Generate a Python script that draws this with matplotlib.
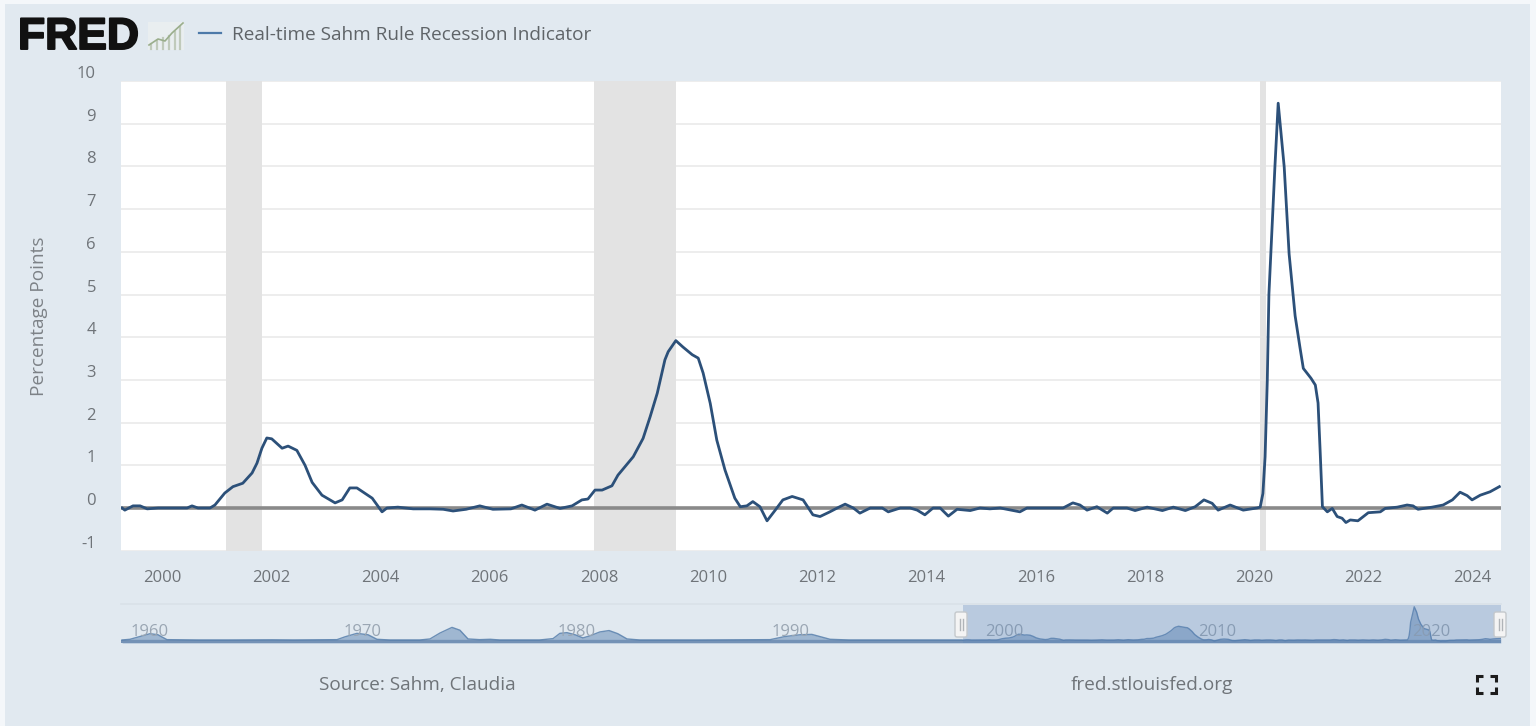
import matplotlib
matplotlib.use("Agg")
import matplotlib.pyplot as plt
import matplotlib.patheffects as pe
from matplotlib.patches import Rectangle, FancyBboxPatch
from matplotlib.transforms import ScaledTranslation

W, H = 1536, 726

# Real-time Sahm indicator, (decimal year, percentage points)
years = [1999.27, 1999.32, 1999.47, 1999.60, 1999.73, 1999.93, 2000.24, 2000.46, 2000.55, 2000.66,
         2000.88, 2000.97, 2001.15, 2001.30, 2001.48, 2001.65, 2001.74, 2001.83, 2001.92, 2002.01,
         2002.20, 2002.31, 2002.47, 2002.62, 2002.75, 2002.93, 2003.17, 2003.30, 2003.44, 2003.57,
         2003.85, 2004.03, 2004.12, 2004.32, 2004.60, 2004.91, 2005.15, 2005.33, 2005.57, 2005.82,
         2006.06, 2006.39, 2006.59, 2006.83, 2007.05, 2007.29, 2007.51, 2007.69, 2007.80, 2007.93,
         2008.06, 2008.24, 2008.35, 2008.63, 2008.81, 2008.94, 2009.07, 2009.21, 2009.27, 2009.41,
         2009.54, 2009.71, 2009.82, 2009.91, 2010.04, 2010.16, 2010.31, 2010.49, 2010.59, 2010.71,
         2010.82, 2010.95, 2011.08, 2011.23, 2011.37, 2011.54, 2011.74, 2011.92, 2012.05, 2012.23,
         2012.38, 2012.51, 2012.66, 2012.78, 2012.97, 2013.19, 2013.30, 2013.52, 2013.70, 2013.83,
         2013.97, 2014.12, 2014.25, 2014.40, 2014.56, 2014.80, 2014.98, 2015.16, 2015.35, 2015.59,
         2015.71, 2015.84, 2016.08, 2016.32, 2016.50, 2016.68, 2016.81, 2016.94, 2017.12, 2017.31,
         2017.42, 2017.67, 2017.82, 2018.04, 2018.32, 2018.52, 2018.74, 2018.92, 2019.08, 2019.23,
         2019.34, 2019.56, 2019.80, 2020.05, 2020.11, 2020.16, 2020.20, 2020.24, 2020.27, 2020.38,
         2020.44, 2020.55, 2020.64, 2020.75, 2020.84, 2020.90, 2021.04, 2021.12, 2021.17, 2021.21,
         2021.25, 2021.34, 2021.43, 2021.52, 2021.61, 2021.68, 2021.76, 2021.90, 2022.09, 2022.31,
         2022.40, 2022.62, 2022.80, 2022.91, 2023.00, 2023.26, 2023.46, 2023.63, 2023.77, 2023.90,
         2023.99, 2024.14, 2024.32, 2024.49]
values = [0.0, -0.05, 0.05, 0.05, -0.02, 0.0, 0.0, 0.0, 0.05, 0.0,
          0.0, 0.07, 0.35, 0.5, 0.58, 0.82, 1.05, 1.4, 1.64, 1.62,
          1.4, 1.45, 1.35, 1.0, 0.6, 0.3, 0.12, 0.19, 0.47, 0.47,
          0.23, -0.09, 0.0, 0.02, -0.02, -0.02, -0.03, -0.07, -0.03, 0.05,
          -0.03, -0.02, 0.07, -0.05, 0.09, -0.01, 0.05, 0.19, 0.21, 0.42,
          0.42, 0.52, 0.77, 1.2, 1.63, 2.14, 2.69, 3.47, 3.66, 3.92,
          3.77, 3.59, 3.51, 3.16, 2.45, 1.59, 0.89, 0.23, 0.03, 0.05,
          0.15, 0.03, -0.30, -0.05, 0.19, 0.27, 0.19, -0.16, -0.20, -0.09,
          0.01, 0.09, 0.0, -0.12, 0.0, 0.0, -0.09, 0.0, 0.0, -0.05,
          -0.16, 0.0, 0.0, -0.19, -0.03, -0.06, 0.0, -0.02, 0.0, -0.06,
          -0.09, 0.0, 0.0, 0.0, 0.0, 0.12, 0.07, -0.05, 0.03, -0.12,
          0.0, 0.0, -0.06, 0.02, -0.06, 0.02, -0.06, 0.03, 0.19, 0.11,
          -0.05, 0.07, -0.05, 0.0, 0.02, 0.34, 1.2, 2.97, 5.0, 7.99,
          9.48, 7.99, 5.95, 4.5, 3.75, 3.27, 3.04, 2.88, 2.46, 1.28,
          0.03, -0.09, -0.01, -0.2, -0.24, -0.34, -0.28, -0.3, -0.11, -0.09,
          -0.01, 0.02, 0.07, 0.05, -0.03, 0.02, 0.07, 0.19, 0.37, 0.29,
          0.19, 0.30, 0.38, 0.5]

# Earlier history, only shown in the navigator strip
early_years = [1959.97, 1960.34, 1960.81, 1961.28, 1961.65, 1962.07, 1963.5, 1965.0, 1967.0, 1968.0,
               1970.03, 1970.4, 1970.96, 1971.48, 1971.9, 1972.5, 1973.9, 1974.38, 1974.85, 1975.41,
               1975.78, 1976.16, 1976.7, 1977.2, 1977.65, 1979.5, 1980.14, 1980.46, 1980.79, 1981.17,
               1981.54, 1981.87, 1982.33, 1982.76, 1983.17, 1983.6, 1984.2, 1987.0, 1990.3, 1991.0,
               1991.7, 1992.25, 1993.1, 1994.0, 1996.4, 1999.2]
early_values = [0.0, 0.2, 1.0, 1.8, 1.5, 0.1, 0.0, 0.0, 0.05, 0.0,
                0.1, 0.9, 1.9, 1.5, 0.2, 0.0, 0.0, 0.3, 2.0, 3.6,
                2.8, 0.3, 0.1, 0.2, 0.0, 0.0, 0.4, 1.9, 2.1, 1.5,
                0.6, 1.2, 2.3, 2.7, 1.8, 0.3, 0.0, 0.0, 0.1, 1.0,
                1.5, 1.6, 0.2, 0.0, 0.0, 0.0]

# NBER recessions inside the main window
recession_starts = [2001.17, 2007.92, 2020.10]
recession_ends = [2001.84, 2009.42, 2020.22]

y_ticks = [-1, 0, 1, 2, 3, 4, 5, 6, 7, 8, 9, 10]
x_ticks = list(range(2000, 2025, 2))
nav_ticks = [1960, 1970, 1980, 1990, 2000, 2010, 2020]

BG = "#e1e9f0"
LINE = "#2c5079"
TEXT = "#6f7479"
FONT = "Open Sans"

plt.rcParams["font.family"] = [FONT, "DejaVu Sans"]
plt.rcParams["axes.unicode_minus"] = False


def px_axes(fig, left, top, right, bottom, **kw):
    return fig.add_axes([left / W, 1 - bottom / H, (right - left) / W, (bottom - top) / H], **kw)


fig = plt.figure(figsize=(W / 100, H / 100), dpi=100, facecolor="#f4f7fa")

# pixel-space layer for the panel, logo, legend and footer
bg = px_axes(fig, 0, 0, W, H)
bg.set_xlim(0, W)
bg.set_ylim(H, 0)
bg.axis("off")
bg.add_patch(Rectangle((5, 4), W - 11, H - 4, color=BG, lw=0))

logo = bg.text(18, 49, "FRED", family=["Liberation Sans", "DejaVu Sans"], fontweight="bold",
               fontsize=32, color="#111111", va="baseline", ha="left")
logo.set_path_effects([pe.withStroke(linewidth=1.4, foreground="#111111")])

# small chart glyph next to the logo
bg.add_patch(Rectangle((148, 22), 36, 28, color="#e9eef0", lw=0))
for bx, bh in zip([151, 157, 163, 169, 175, 180], [5, 8, 11, 13, 17, 22]):
    bg.plot([bx, bx], [49, 49 - bh], color="#c0cabb", lw=1.6)
bg.plot([149, 158, 165, 172, 183], [45, 39, 41, 33, 23], color="#9aae8c", lw=1.2)

bg.plot([199, 221], [33, 33], color="#4d7aa9", lw=1.6)
bg.text(232, 35.5, "Real-time Sahm Rule Recession Indicator", fontsize=13.7, color="#5f6468",
        va="center", ha="left")

bg.text(417, 685, "Source: Sahm, Claudia", fontsize=13.7, color=TEXT, va="center", ha="center")
bg.text(1152, 685, "fred.stlouisfed.org", fontsize=13.7, color=TEXT, va="center", ha="center")

# fullscreen icon
for cx, cy, dx, dy in [(1477, 676, 1, 1), (1496, 676, -1, 1), (1477, 693, 1, -1), (1496, 693, -1, -1)]:
    bg.plot([cx + 6 * dx, cx, cx], [cy, cy, cy + 6 * dy], color="#1c1c1c", lw=2.2,
            solid_joinstyle="miter", solid_capstyle="butt")

# main chart
ax = px_axes(fig, 121, 81, 1501, 550.7, facecolor="white")
ax.set_xlim(1999.25, 2024.52)
ax.set_ylim(-1, 10)
ax.set_yticks(y_ticks)
ax.set_xticks(x_ticks)
ax.grid(axis="y", color="#ececec", lw=1.3)
ax.set_axisbelow(True)
ax.tick_params(length=0)
ax.tick_params(axis="both", labelsize=12, labelcolor=TEXT)
ax.tick_params(axis="x", pad=14)
ax.tick_params(axis="y", pad=18)
for spine in ax.spines.values():
    spine.set_visible(False)

# FRED sets the y labels above their gridlines
lift = ScaledTranslation(0, 9 / 100, fig.dpi_scale_trans)
for lab in ax.get_yticklabels():
    lab.set_transform(lab.get_transform() + lift)

for start, end in zip(recession_starts, recession_ends):
    ax.axvspan(start, end, color="#e3e3e3", lw=0, zorder=1.5)
ax.axhline(0, color="#8a8a8a", lw=2.6, zorder=2)
ax.plot(years, values, color=LINE, lw=2, zorder=3, solid_joinstyle="round")

bg.text(39, 316, "Percentage Points", rotation=90, fontsize=13.7, color="#7d8287",
        va="center", ha="center")

# navigator strip
nav = px_axes(fig, 121, 605, 1501, 643)
nav.patch.set_alpha(0)
nav.axis("off")
nav.set_xlim(1959.92, 2024.5)
nav.set_ylim(-0.86, 10)
nav_x = early_years + years
nav_y = early_values + values
for tick in nav_ticks:
    nav.annotate(str(tick), xy=(tick, 0), xytext=(19, 0), textcoords="offset points",
                 fontsize=12, color="#9aa6b3", ha="center", va="bottom", annotation_clip=False)
nav.fill_between(nav_x, nav_y, -0.86, color="#4572a7", alpha=0.42, lw=0)
nav.plot(nav_x, nav_y, color="#4f79a8", lw=1, alpha=0.8)
nav.axhline(-0.2, color="#7492b6", lw=2.4, zorder=1.5)

sel_start = 1959.92 + (963 - 121) / 21.37
nav.axvspan(sel_start, 2024.5, color="#5f85b8", alpha=0.3, lw=0, zorder=4)

bg.plot([121, 1501], [604, 604], color="#d9e1e8", lw=1.2)

# range handles
top = px_axes(fig, 0, 0, W, H)
top.patch.set_alpha(0)
top.set_xlim(0, W)
top.set_ylim(H, 0)
top.axis("off")
for hx in [955, 1494]:
    top.add_patch(FancyBboxPatch((hx, 612), 12, 25, boxstyle="round,pad=0,rounding_size=2",
                                 fc="#f4f4f4", ec="#c4c8cc", lw=1))
    top.plot([hx + 4.5, hx + 4.5], [619, 630], color="#b0b4b8", lw=1)
    top.plot([hx + 7.5, hx + 7.5], [619, 630], color="#b0b4b8", lw=1)

fig.savefig("out.png", dpi=100, facecolor=fig.get_facecolor())
